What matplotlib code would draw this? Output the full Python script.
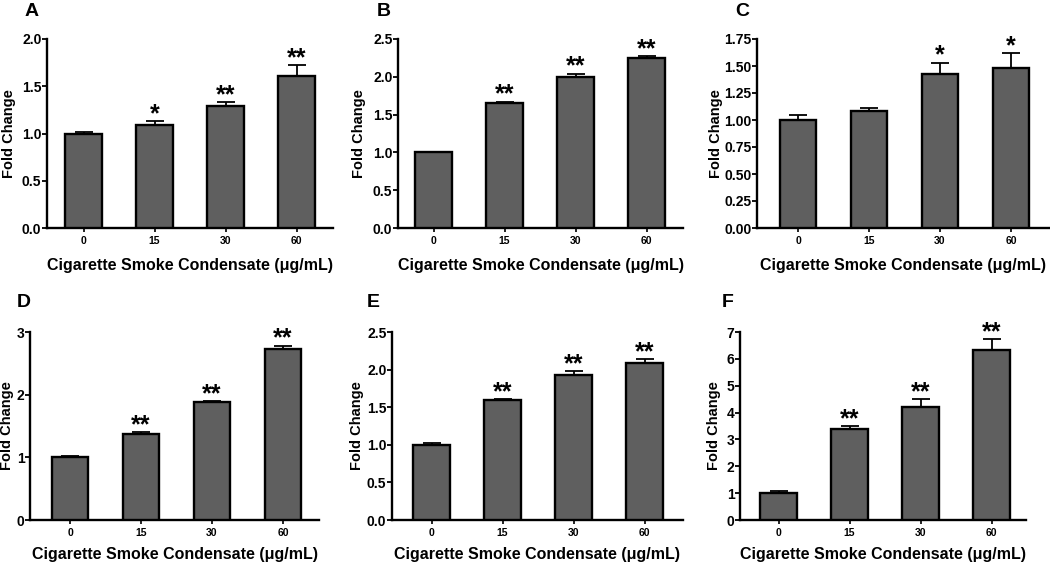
import matplotlib
matplotlib.use("Agg")
import matplotlib.pyplot as plt
import numpy as np

plt.rcParams['font.family'] = ['Liberation Sans', 'DejaVu Sans']
plt.rcParams['font.weight'] = 'bold'

categories = ['0', '15', '30', '60']

panel_letters = ['A', 'B', 'C', 'D', 'E', 'F']
means = {
    'A': [1.00, 1.09, 1.29, 1.61],
    'B': [1.00, 1.65, 2.00, 2.25],
    'C': [1.00, 1.08, 1.43, 1.48],
    'D': [1.00, 1.38, 1.88, 2.73],
    'E': [1.00, 1.59, 1.93, 2.09],
    'F': [1.00, 3.38, 4.20, 6.33],
}
errors = {
    'A': [0.02, 0.04, 0.04, 0.11],
    'B': [0.01, 0.02, 0.04, 0.02],
    'C': [0.05, 0.03, 0.10, 0.14],
    'D': [0.02, 0.02, 0.02, 0.05],
    'E': [0.02, 0.02, 0.05, 0.05],
    'F': [0.08, 0.12, 0.30, 0.40],
}
signif = {
    'A': ['', '*', '**', '**'],
    'B': ['', '**', '**', '**'],
    'C': ['', '', '*', '*'],
    'D': ['', '**', '**', '**'],
    'E': ['', '**', '**', '**'],
    'F': ['', '**', '**', '**'],
}
yticks = {
    'A': [0.0, 0.5, 1.0, 1.5, 2.0],
    'B': [0.0, 0.5, 1.0, 1.5, 2.0, 2.5],
    'C': [0.0, 0.25, 0.5, 0.75, 1.0, 1.25, 1.5, 1.75],
    'D': [0, 1, 2, 3],
    'E': [0.0, 0.5, 1.0, 1.5, 2.0, 2.5],
    'F': [0, 1, 2, 3, 4, 5, 6, 7],
}
yfmt = {'A': '{:.1f}', 'B': '{:.1f}', 'C': '{:.2f}', 'D': '{:.0f}', 'E': '{:.1f}', 'F': '{:.0f}'}
xlabel = 'Cigarette Smoke Condensate (\u03bcg/mL)'
ylabel = 'Fold Change'

W, H = 1050, 565
fig = plt.figure(figsize=(W / 100, H / 100), dpi=100)

# layout in pixels: left, right, top, bottom, first-bar offset (px), letter x, letter y, ylabel x, xlabel gap
layout = {
    'A': (47, 333, 39, 228, 36.5, 25, 3, 9, 37),
    'B': (398, 683, 39, 228, 35.5, 377, 3, 359, 37),
    'C': (757, 1049, 39, 228, 41, 735, 3, 716, 37),
    'D': (30, 319, 332, 520, 40, 17, 294, 7.5, 34),
    'E': (392, 683, 332, 520, 39.5, 367, 294, 357, 34),
    'F': (740, 1026, 332, 520, 38.5, 722, 294, 714, 34),
}
spacing = 71.0

for key in panel_letters:
    l, r, t, b, off, lx, ly, ylx, gap = layout[key]
    ax = fig.add_axes([l / W, 1 - b / H, (r - l) / W, (b - t) / H])
    x = np.arange(len(categories))
    ax.bar(x, means[key], width=0.51, color='#5f5f5f', edgecolor='black',
           linewidth=1.7, zorder=3)
    ax.errorbar(x, means[key], yerr=[np.zeros(4), errors[key]], fmt='none',
                ecolor='black', elinewidth=1.3, capsize=6.8, capthick=1.3, zorder=2)
    for xi, m, e, s in zip(x, means[key], errors[key], signif[key]):
        if s:
            ax.annotate(s, (xi, m + e), xytext=(0, 0), textcoords='offset points',
                        ha='center', va='baseline', fontsize=18, fontweight='bold')
    ax.set_xlim(-off / spacing, -off / spacing + (r - l) / spacing)
    yt = yticks[key]
    ax.set_ylim(0, yt[-1])
    ax.set_yticks(yt)
    ax.set_yticklabels([yfmt[key].format(v) for v in yt], fontsize=10, fontweight='bold')
    ax.set_xticks(x)
    ax.set_xticklabels(categories, fontsize=7.5, fontweight='bold')
    for side in ['top', 'right']:
        ax.spines[side].set_visible(False)
    for side in ['left', 'bottom']:
        ax.spines[side].set_linewidth(1.7)
    ax.tick_params(axis='y', length=3.5, width=1.3, pad=0.5)
    ax.tick_params(axis='x', length=3, width=1.2, pad=2.5)
    fig.text((l + r) / 2 / W, 1 - (b + gap) / H, xlabel, ha='center', va='center',
             fontsize=11.5, fontweight='bold')
    fig.text(ylx / W, 1 - (t + b) / 2 / H, ylabel, ha='center', va='center',
             rotation=90, fontsize=10.5, fontweight='bold')
    fig.text(lx / W, 1 - ly / H, key, ha='left', va='top', fontsize=14, fontweight='bold')

fig.savefig('out.png', dpi=100)
